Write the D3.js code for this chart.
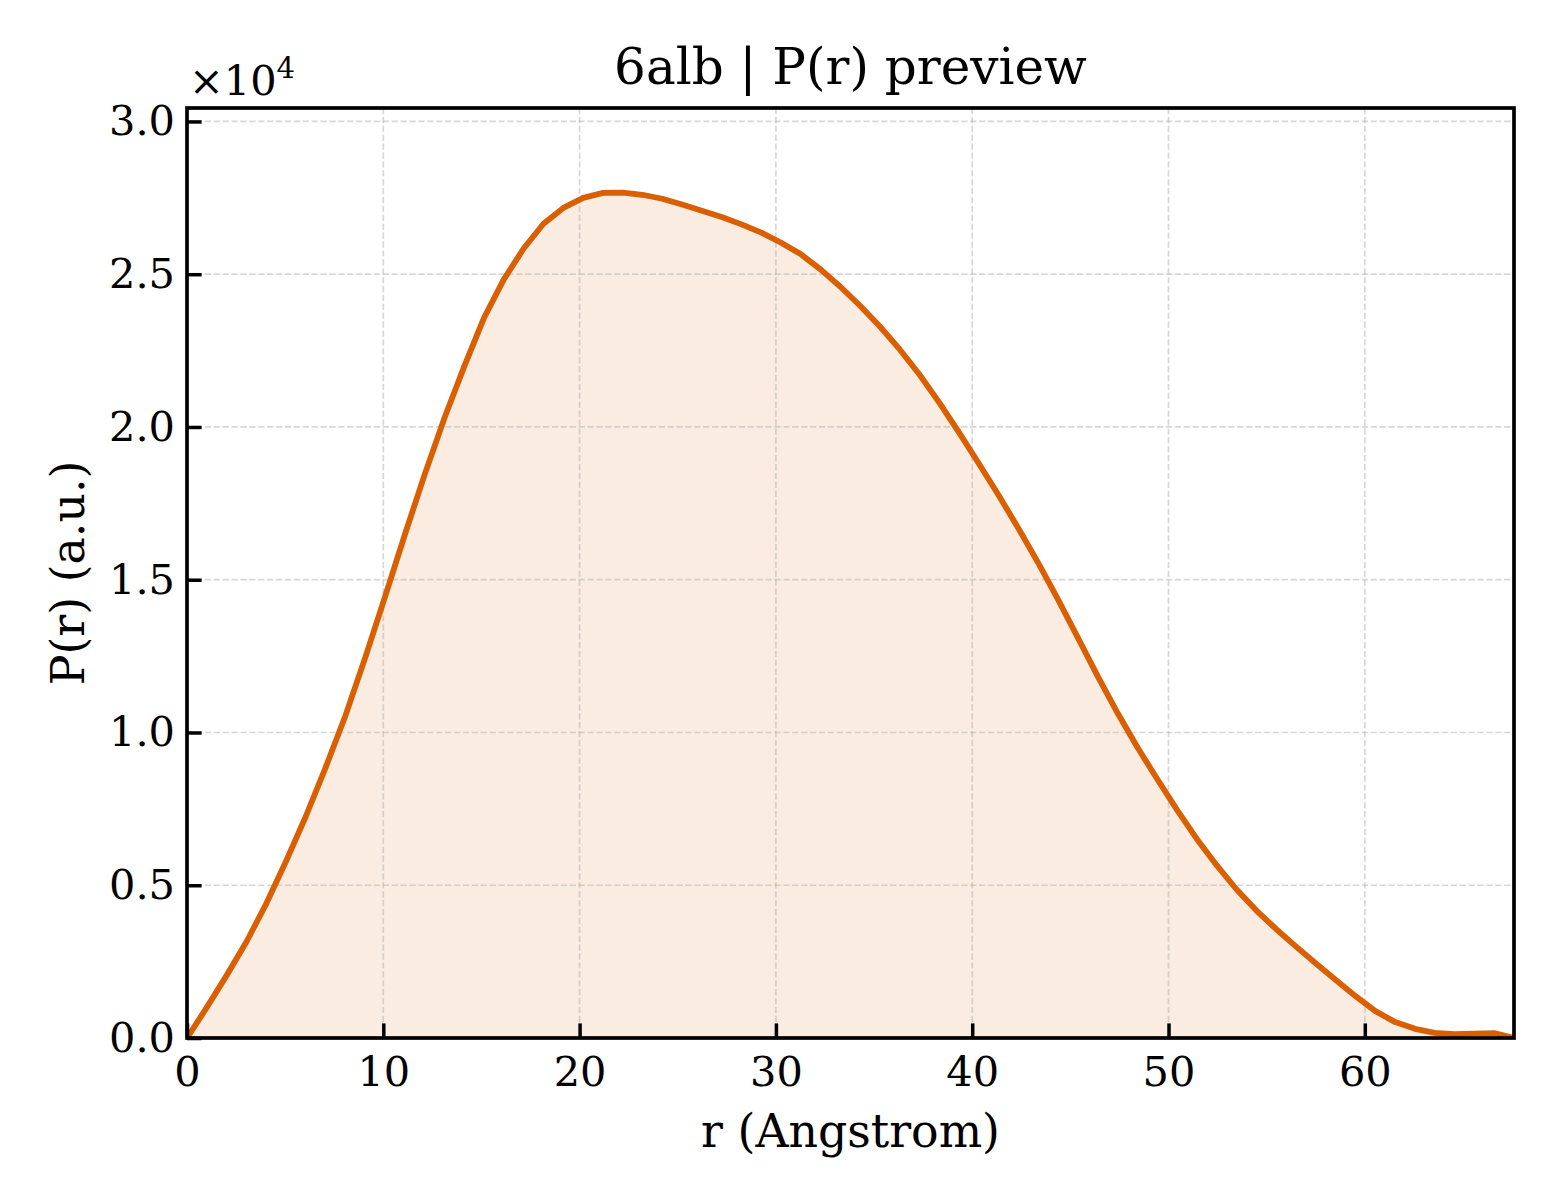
<!DOCTYPE html>
<html>
<head>
<meta charset="utf-8">
<script src="https://cdn.jsdelivr.net/npm/d3@7"></script>
<style>
  body { margin: 0; background: #fff; }
  svg text { font-family: "DejaVu Serif", serif; fill: #000; }
</style>
</head>
<body>
<div id="chart"></div>
<script>
const r = [
  0, 1.01, 2.02, 3.03, 4.04, 5.04, 6.05, 7.06, 8.07, 9.08,
  10.09, 11.10, 12.11, 13.12, 14.13, 15.13, 16.14, 17.15, 18.16, 19.17,
  20.18, 21.19, 22.20, 23.20, 24.21, 25.22, 26.23, 27.24, 28.25, 29.26,
  30.27, 31.28, 32.29, 33.30, 34.30, 35.31, 36.32, 37.33, 38.34, 39.35,
  40.36, 41.37, 42.38, 43.39, 44.39, 45.40, 46.41, 47.42, 48.43, 49.44,
  50.45, 51.46, 52.47, 53.47, 54.48, 55.49, 56.50, 57.51, 58.52, 59.53,
  60.54, 61.55, 62.56, 63.56, 64.57, 65.58, 66.59, 67.60
];
const pr = [
  0, 1000, 2050, 3150, 4400, 5780, 7250, 8850, 10550, 12450,
  14450, 16480, 18450, 20300, 21990, 23570, 24830, 25840, 26650, 27170,
  27500, 27660, 27670, 27600, 27470, 27280, 27080, 26870, 26630, 26360,
  26030, 25650, 25150, 24580, 23960, 23280, 22530, 21700, 20780, 19800,
  18780, 17740, 16650, 15520, 14330, 13080, 11820, 10620, 9500, 8460,
  7450, 6500, 5640, 4860, 4170, 3560, 2990, 2440, 1900, 1370,
  880, 520, 300, 170, 130, 140, 160, 0
];
const xTicks = [0, 10, 20, 30, 40, 50, 60];
const yTicks = [0, 5000, 10000, 15000, 20000, 25000, 30000];

const W = 1560, H = 1200;
const plot = { left: 187, right: 1514, top: 108, bottom: 1038 };
const lineColor = '#d95f02';

const data = r.map((d, i) => ({ r: d, v: pr[i] }));

const x = d3.scaleLinear().domain([0, 67.6]).range([plot.left, plot.right]);
const y = d3.scaleLinear().domain([0, 30440]).range([plot.bottom, plot.top]);

const svg = d3.select('#chart').append('svg')
  .attr('width', W).attr('height', H)
  .attr('viewBox', `0 0 ${W} ${H}`);

svg.append('defs').append('clipPath').attr('id', 'clip')
  .append('rect')
  .attr('x', plot.left).attr('y', plot.top)
  .attr('width', plot.right - plot.left).attr('height', plot.bottom - plot.top);

const body = svg.append('g').attr('clip-path', 'url(#clip)');

/* ---- fill under the curve ---- */
body.append('path')
  .datum(data)
  .attr('fill', lineColor)
  .attr('fill-opacity', 0.12)
  .attr('d', d3.area().x(d => x(d.r)).y0(y(0)).y1(d => y(d.v)));

/* ---- grid ---- */
const grid = body.append('g')
  .attr('stroke', '#b0b0b0').attr('stroke-opacity', 0.5)
  .attr('stroke-width', 1.7).attr('stroke-dasharray', '6.2,2.7');
grid.selectAll('line.gx').data(xTicks.slice(1)).join('line')
  .attr('class', 'gx')
  .attr('x1', d => x(d)).attr('x2', d => x(d))
  .attr('y1', plot.top).attr('y2', plot.bottom);
grid.selectAll('line.gy').data(yTicks.slice(1)).join('line')
  .attr('class', 'gy')
  .attr('x1', plot.left).attr('x2', plot.right)
  .attr('y1', d => y(d)).attr('y2', d => y(d));

/* ---- curve ---- */
body.append('path')
  .datum(data)
  .attr('fill', 'none')
  .attr('stroke', lineColor)
  .attr('stroke-width', 5.8)
  .attr('stroke-linejoin', 'round')
  .attr('d', d3.line().x(d => x(d.r)).y(d => y(d.v)));

/* ---- axes (ticks point inward) ---- */
const xAxis = d3.axisBottom(x).tickValues(xTicks).tickFormat(d3.format('d'))
  .tickSizeInner(-14.6).tickSizeOuter(0).tickPadding(19);
const yAxis = d3.axisLeft(y).tickValues(yTicks).tickFormat(d => (d / 1e4).toFixed(1))
  .tickSizeInner(-14.6).tickSizeOuter(0).tickPadding(12);

const gx = svg.append('g').attr('transform', `translate(0,${plot.bottom})`).call(xAxis);
const gy = svg.append('g').attr('transform', `translate(${plot.left},0)`).call(yAxis);

[gx, gy].forEach(g => {
  g.select('.domain').remove();
  g.selectAll('.tick line').attr('stroke', '#000').attr('stroke-width', 3.5);
  g.selectAll('.tick text')
    .style('font-family', '"DejaVu Serif", serif')
    .style('font-size', '41.5px')
    .attr('fill', '#000');
});

// frame
svg.append('rect')
  .attr('x', plot.left).attr('y', plot.top)
  .attr('width', plot.right - plot.left).attr('height', plot.bottom - plot.top)
  .attr('fill', 'none').attr('stroke', '#000').attr('stroke-width', 3.7);

/* ---- texts ---- */
svg.append('text')
  .attr('x', (plot.left + plot.right) / 2).attr('y', 84)
  .attr('text-anchor', 'middle')
  .style('font-size', '50px')
  .text('6alb | P(r) preview');

svg.append('text')
  .attr('x', (plot.left + plot.right) / 2).attr('y', 1147)
  .attr('text-anchor', 'middle')
  .style('font-size', '45.8px')
  .text('r (Angstrom)');

svg.append('text')
  .attr('transform', `translate(84,${(plot.top + plot.bottom) / 2}) rotate(-90)`)
  .attr('text-anchor', 'middle')
  .style('font-size', '45.8px')
  .text('P(r) (a.u.)');

const offset = svg.append('text')
  .attr('x', plot.left + 2).attr('y', 95)
  .style('font-size', '41.5px');
offset.append('tspan').text('×10');
offset.append('tspan').attr('dy', -17).style('font-size', '29px').text('4');
</script>
</body>
</html>
